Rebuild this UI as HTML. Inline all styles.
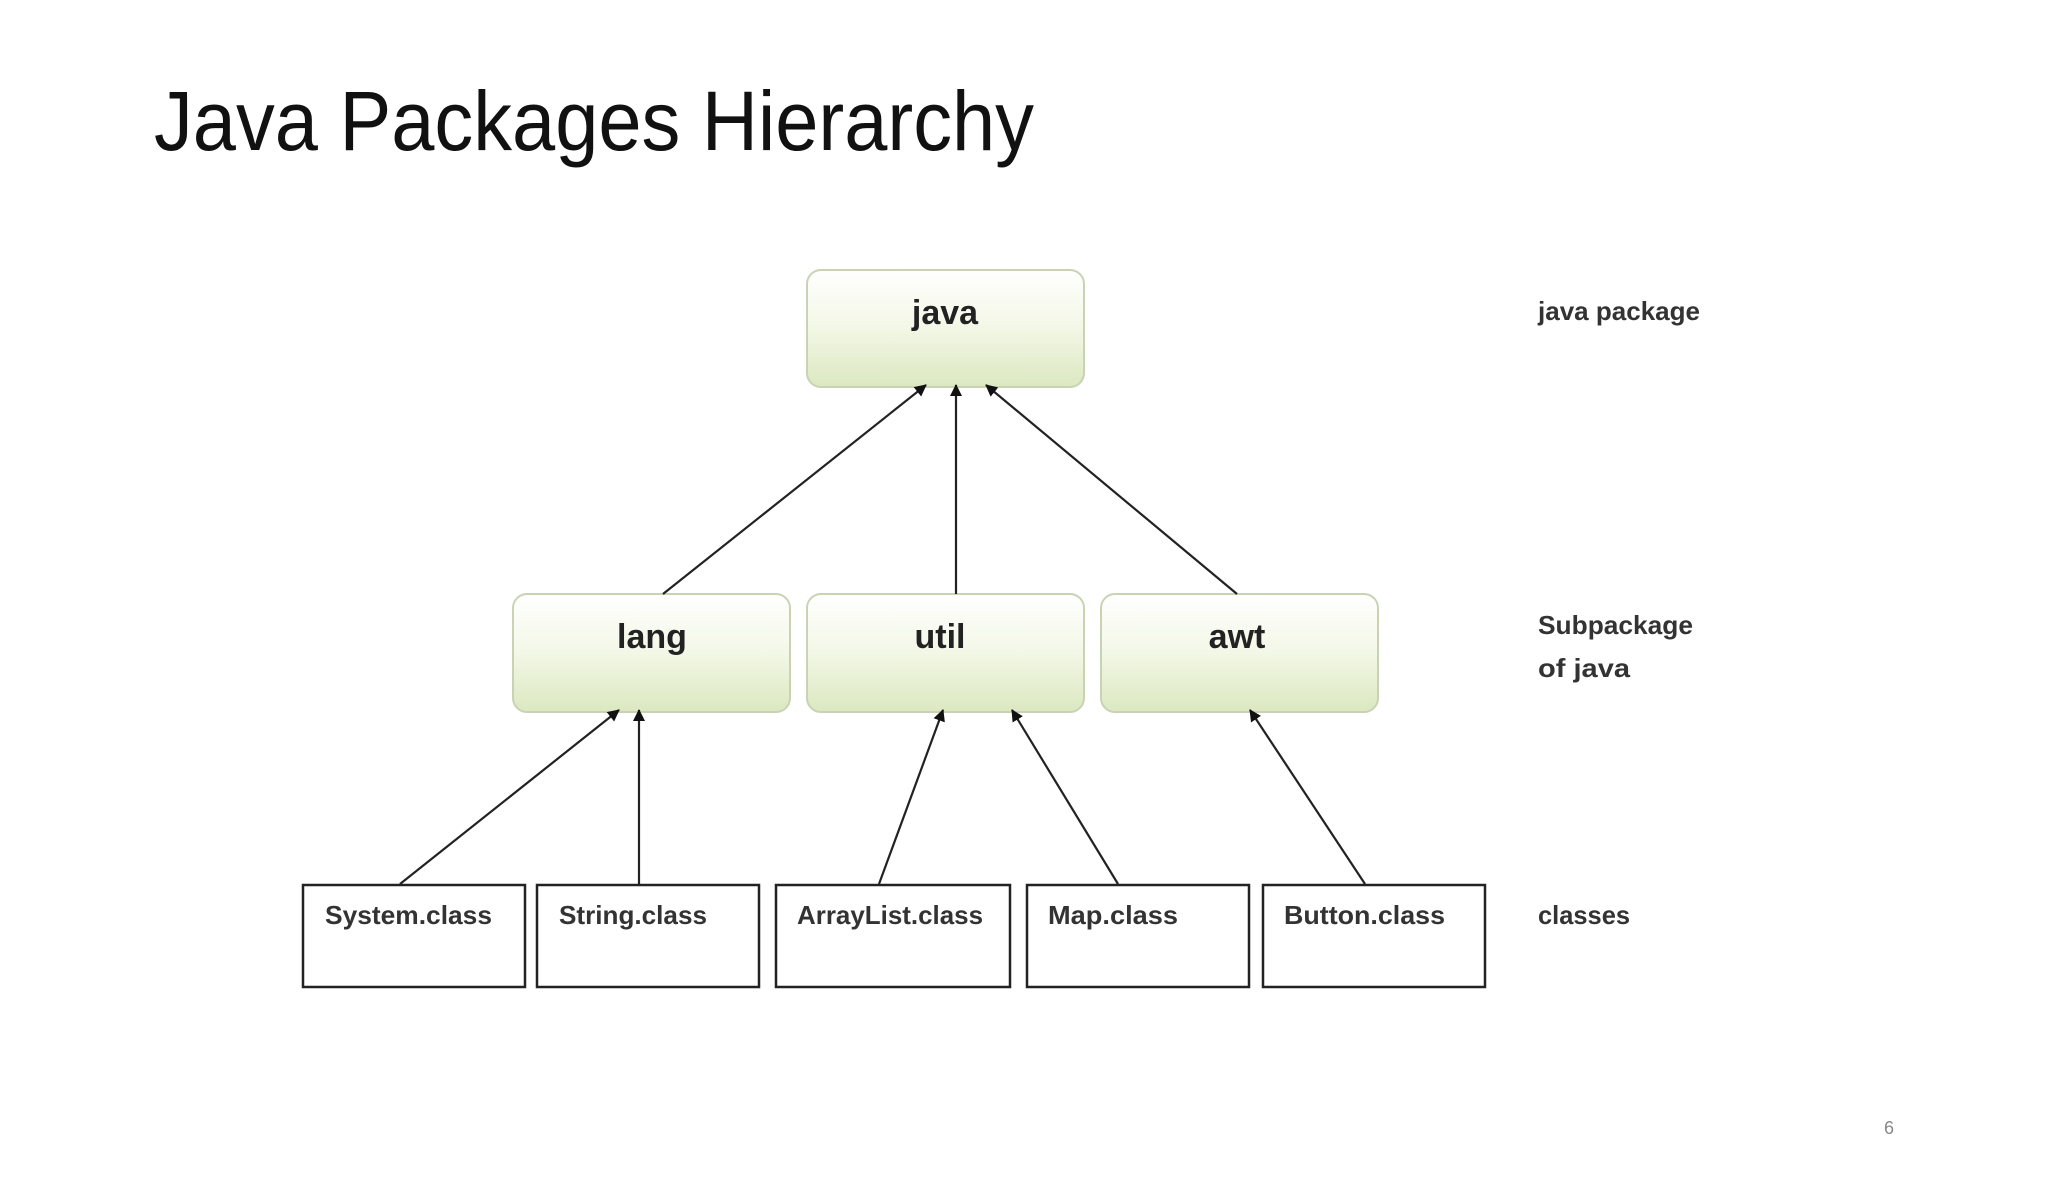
<!DOCTYPE html>
<html><head><meta charset="utf-8"><style>html,body{margin:0;padding:0;background:#fff}svg{display:block}</style></head>
<body>
<svg width="2048" height="1182" viewBox="0 0 2048 1182" xmlns="http://www.w3.org/2000/svg" font-family="'Liberation Sans', sans-serif">
<defs>
<linearGradient id="g" x1="0" y1="0" x2="0" y2="1">
<stop offset="0" stop-color="#ffffff"/><stop offset="0.5" stop-color="#f3f7e6"/><stop offset="1" stop-color="#dbe8c0"/>
</linearGradient>
<marker id="a" markerWidth="12" markerHeight="12" refX="11" refY="6" orient="auto" markerUnits="userSpaceOnUse">
<path d="M0,0 L12,6 L0,12 z" fill="#111"/></marker>
</defs>
<text x="154" y="150" font-size="84" fill="#111" textLength="880" lengthAdjust="spacingAndGlyphs">Java Packages Hierarchy</text>
<g stroke="#c9d3b4" stroke-width="2" fill="url(#g)">
<rect x="807" y="270" width="277" height="117" rx="14"/>
<rect x="513" y="594" width="277" height="118" rx="14"/>
<rect x="807" y="594" width="277" height="118" rx="14"/>
<rect x="1101" y="594" width="277" height="118" rx="14"/>
</g>
<g font-weight="bold" font-size="34" fill="#222" text-anchor="middle">
<text x="945" y="324">java</text>
<text x="652" y="648">lang</text>
<text x="940" y="648">util</text>
<text x="1237" y="648">awt</text>
</g>
<g stroke="#222" stroke-width="2.5" fill="#fff">
<rect x="303" y="885" width="222" height="102"/>
<rect x="537" y="885" width="222" height="102"/>
<rect x="776" y="885" width="234" height="102"/>
<rect x="1027" y="885" width="222" height="102"/>
<rect x="1263" y="885" width="222" height="102"/>
</g>
<g font-weight="bold" font-size="26" fill="#333">
<text x="325" y="924" textLength="167" lengthAdjust="spacingAndGlyphs">System.class</text>
<text x="559" y="924" textLength="148" lengthAdjust="spacingAndGlyphs">String.class</text>
<text x="797" y="924" textLength="186" lengthAdjust="spacingAndGlyphs">ArrayList.class</text>
<text x="1048" y="924" textLength="130" lengthAdjust="spacingAndGlyphs">Map.class</text>
<text x="1284" y="924" textLength="161" lengthAdjust="spacingAndGlyphs">Button.class</text>
<text x="1538" y="320" textLength="162" lengthAdjust="spacingAndGlyphs">java package</text>
<text x="1538" y="634" textLength="155" lengthAdjust="spacingAndGlyphs">Subpackage</text>
<text x="1538" y="677" textLength="92" lengthAdjust="spacingAndGlyphs">of  java</text>
<text x="1538" y="924" textLength="92" lengthAdjust="spacingAndGlyphs">classes</text>
</g>
<g stroke="#222" stroke-width="2.2" marker-end="url(#a)">
<line x1="400" y1="884" x2="619" y2="710"/>
<line x1="639" y1="884" x2="639" y2="710"/>
<line x1="879" y1="884" x2="943" y2="710"/>
<line x1="1118" y1="884" x2="1012" y2="710"/>
<line x1="1365" y1="884" x2="1250" y2="710"/>
<line x1="663" y1="594" x2="926" y2="385"/>
<line x1="956" y1="594" x2="956" y2="385"/>
<line x1="1237" y1="594" x2="986" y2="385"/>
</g>
<text x="1884" y="1134" font-size="18" fill="#888">6</text>
</svg>
</body></html>
